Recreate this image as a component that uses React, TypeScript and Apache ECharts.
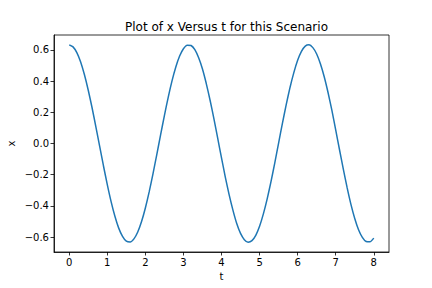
import React, { useEffect, useRef } from "react";
import * as echarts from "echarts";

const tValues: number[] = [
  0, 0.1, 0.2, 0.3, 0.4, 0.5, 0.6, 0.7, 0.8, 0.9,
  1, 1.1, 1.2, 1.3, 1.4, 1.5, 1.6, 1.7, 1.8, 1.9,
  2, 2.1, 2.2, 2.3, 2.4, 2.5, 2.6, 2.7, 2.8, 2.9,
  3, 3.1, 3.2, 3.3, 3.4, 3.5, 3.6, 3.7, 3.8, 3.9,
  4, 4.1, 4.2, 4.3, 4.4, 4.5, 4.6, 4.7, 4.8, 4.9,
  5, 5.1, 5.2, 5.3, 5.4, 5.5, 5.6, 5.7, 5.8, 5.9,
  6, 6.1, 6.2, 6.3, 6.4, 6.5, 6.6, 6.7, 6.8, 6.9,
  7, 7.1, 7.2, 7.3, 7.4, 7.5, 7.6, 7.7, 7.8, 7.9,
  8,
];

const xValues: number[] = [
  0.632, 0.619, 0.582, 0.522, 0.44, 0.341, 0.229, 0.107, -0.018, -0.144,
  -0.263, -0.372, -0.466, -0.542, -0.595, -0.626, -0.631, -0.611, -0.567, -0.5,
  -0.413, -0.31, -0.194, -0.071, 0.055, 0.179, 0.296, 0.401, 0.49, 0.56,
  0.607, 0.63, 0.628, 0.601, 0.549, 0.477, 0.384, 0.277, 0.159, 0.034,
  -0.092, -0.215, -0.328, -0.427, -0.513, -0.576, -0.616, -0.632, -0.622, -0.588,
  -0.53, -0.451, -0.355, -0.244, -0.124, 0.003, 0.129, 0.249, 0.359, 0.454,
  0.533, 0.59, 0.624, 0.632, 0.614, 0.573, 0.509, 0.426, 0.325, 0.212,
  0.087, -0.04, -0.164, -0.283, -0.39, -0.48, -0.552, -0.601, -0.628, -0.63,
  -0.606,
];

const tTicks: number[] = [0, 1, 2, 3, 4, 5, 6, 7, 8];
const xTicks: number[] = [-0.6, -0.4, -0.2, 0, 0.2, 0.4, 0.6];

const titleText = "Plot of x Versus t for this Scenario";
const FONT = "DejaVu Sans";

export default function App() {
  const ref = useRef<HTMLDivElement>(null);
  useEffect(() => {
    if (!ref.current) return;
    const chart = echarts.init(ref.current, null, { renderer: "svg" });
    const data = tValues.map((t, i) => [t, xValues[i]]);
    chart.setOption({
      animation: false,
      backgroundColor: "#ffffff",
      title: {
        text: titleText,
        left: 221.5,
        textAlign: "center",
        top: 16,
        textStyle: { fontFamily: FONT, fontSize: 12, fontWeight: "normal", color: "#000" },
      },
      grid: {
        left: 54,
        right: 43,
        top: 35,
        bottom: 36,
        containLabel: false,
        outerBoundsMode: "none",
        show: true,
        borderColor: "#000",
        borderWidth: 0.8,
        backgroundColor: "transparent",
      },
      xAxis: {
        type: "value",
        min: -0.4,
        max: 8.4,
        name: "t",
        nameLocation: "middle",
        nameGap: 19,
        nameMoveOverlap: false,
        nameTextStyle: { fontFamily: FONT, fontSize: 10, color: "#000" },
        axisLine: { show: true, onZero: false, lineStyle: { color: "#000", width: 0.8 } },
        axisTick: { show: true, length: 3.5, customValues: tTicks, lineStyle: { color: "#000", width: 0.8 } },
        axisLabel: {
          customValues: tTicks,
          margin: 5,
          fontFamily: FONT,
          fontSize: 10,
          color: "#000",
          formatter: (v: number) => String(v),
        },
        splitLine: { show: false },
      },
      yAxis: {
        type: "value",
        min: -0.695,
        max: 0.695,
        name: "x",
        nameLocation: "middle",
        nameGap: 38,
        nameMoveOverlap: false,
        nameTextStyle: { fontFamily: FONT, fontSize: 10, color: "#000" },
        axisLine: { show: true, onZero: false, lineStyle: { color: "#000", width: 0.8 } },
        axisTick: { show: true, length: 3.5, customValues: xTicks, lineStyle: { color: "#000", width: 0.8 } },
        axisLabel: {
          customValues: xTicks,
          margin: 5,
          fontFamily: FONT,
          fontSize: 10,
          color: "#000",
          formatter: (v: number) => {
            const s = Math.abs(v).toFixed(1);
            return v < -1e-9 ? "\u2212" + s : s;
          },
        },
        splitLine: { show: false },
      },
      series: [
        {
          type: "line",
          data,
          showSymbol: false,
          smooth: 0.2,
          lineStyle: { color: "#1f77b4", width: 1.5 },
          itemStyle: { color: "#1f77b4" },
        },
      ],
    });
    return () => chart.dispose();
  }, []);
  return (
    <div
      ref={ref}
      style={{ position: "fixed", left: 0, top: 0, width: 432, height: 288 }}
    />
  );
}
